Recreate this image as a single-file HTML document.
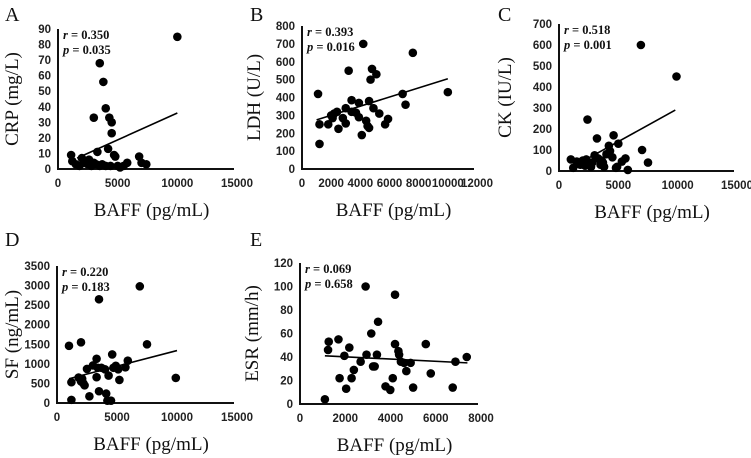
<!DOCTYPE html>
<html><head><meta charset="utf-8">
<style>
html,body{margin:0;padding:0;background:#fff;}
svg{display:block;}
.tk{font-family:"Liberation Sans",Arial,sans-serif;font-weight:bold;font-size:11.5px;fill:#222;}
.tt{font-family:"Liberation Serif","Times New Roman",serif;font-size:19px;fill:#111;}
.lt{font-family:"Liberation Serif","Times New Roman",serif;font-size:20px;fill:#111;}
.an{font-family:"Liberation Serif","Times New Roman",serif;font-weight:bold;font-size:12.5px;fill:#111;}
</style></head>
<body>
<svg id="fig" width="751" height="458" viewBox="0 0 751 458" xmlns="http://www.w3.org/2000/svg"></svg>
<script>
// Panel A: CRP
const aX=[10000,3500,3800,4000,4300,4500,3000,4500,3300,4200,4700,4800,6800,7000,7400,1100,1200,2000,2200,2500,2800,3000,3500,4000,5000,5500,5800,1800,2600,1500,3700,4400,5200,2300,3200];
const aY=[85,68,56,39,33,30,33,23,11,13,9,8,8,4,3,9,5,7,4,3,2,4,2,2,2,2,4,2,6,3,3,2,1,5,3];
const aLine=[[1600,7],[10000,36]];
const aXTicks=[0,5000,10000,15000];
const aYTicks=[0,10,20,30,40,50,60,70,80,90];
// Panel B: LDH
const bX=[1100,1200,1200,1800,2000,2100,2200,2400,2500,2800,3000,3000,3200,3400,3400,3700,3900,3900,4100,4200,4400,4500,4600,4600,4700,4800,4900,5100,5300,5700,5900,6900,7100,7600,10000];
const bY=[420,250,140,250,300,285,310,320,225,285,340,255,550,385,320,315,290,370,190,700,270,240,230,380,500,560,340,530,310,250,280,420,360,650,430];
const bLine=[[1000,275],[10000,505]];
const bXTicks=[0,2000,4000,6000,8000,10000,12000];
const bYTicks=[0,100,200,300,400,500,600,700,800];
// Panel C: CK
const cX=[1000,1200,1500,1800,2000,2200,2300,2400,2600,2800,3000,3200,3300,3500,3700,3800,4000,4200,4300,4500,4600,4800,4900,5000,5300,5600,5800,6900,7000,7500,9900,3600,2700];
const cY=[55,15,45,30,50,25,55,245,30,40,75,155,60,30,40,20,80,120,95,65,170,15,20,130,45,60,5,600,100,40,450,50,20];
const cLine=[[1000,15],[9800,290]];
const cXTicks=[0,5000,10000,15000];
const cYTicks=[0,100,200,300,400,500,600,700];
// Panel D: SF
const dX=[1000,1200,1200,1800,2000,2000,2200,2300,2500,2700,3000,3300,3300,3400,3500,3500,3700,4000,4100,4200,4300,4500,4600,4700,4900,5100,5200,5700,5900,6900,7500,9900,2100];
const dY=[1460,530,80,650,1550,550,500,450,870,170,960,1130,660,900,2650,300,900,860,240,60,700,60,1240,900,950,860,590,910,1080,2980,1500,640,620];
const dLine=[[1000,620],[10000,1340]];
const dXTicks=[0,5000,10000,15000];
const dYTicks=[0,500,1000,1500,2000,2500,3000,3500];
// Panel E: ESR
const eX=[1100,1270,1240,1700,1960,1750,2040,2180,2280,2380,2680,2900,2940,3150,3230,3300,3400,3450,3780,3990,4100,4200,4200,4350,4380,4460,4600,4700,4890,5000,5560,5780,6750,6870,7370];
const eY=[4,53,46,55,41,22,13,48,22,29,36,100,42,60,32,32,42,70,15,12,22,93,51,45,42,36,35,28,35,14,51,26,14,36,40];
const eLine=[[1100,41],[7400,35]];
const eXTicks=[0,2000,4000,6000,8000];
const eYTicks=[0,20,40,60,80,100,120];

const NS="http://www.w3.org/2000/svg";
const svg=document.getElementById('fig');
function mk(tag,attrs,parent){const e=document.createElementNS(NS,tag);for(const k in attrs)e.setAttribute(k,attrs[k]);(parent||svg).appendChild(e);return e;}

function panel(key,letter,lx,ly,xs,ys,lineArr,xt,yt,g,ytitle,r,p){
  const G=mk('g',{});
  
  
  const xMax=xt[xt.length-1], yMax=yt[yt.length-1];
  const sx=v=>g.x0+(v/xMax)*(g.x1-g.x0);
  const sy=v=>g.y0-(v/yMax)*(g.y0-g.yT);
  const L=mk('text',{x:lx,y:ly,class:'lt'},G);L.textContent=letter;
  
  
  const ax=mk('path',{d:`M${g.x0},${g.yT} L${g.x0},${g.y0} L${g.x1-3},${g.y0}`,fill:'none',stroke:'#111','stroke-width':2},G);
  
  
  yt.forEach(v=>{const t=mk('text',{x:g.x0-7,y:sy(v)+4,'text-anchor':'end',class:'tk'},G);t.textContent=v;
    
    });
  xt.forEach(v=>{const t=mk('text',{x:sx(v),y:g.y0+18,'text-anchor':'middle',class:'tk'},G);t.textContent=v;
    
    });
  const xtT=mk('text',{x:(g.x0+g.x1)/2+4,y:g.y0+47,'text-anchor':'middle',class:'tt'},G);xtT.textContent='BAFF (pg/mL)';
  
  
  const cy=(g.y0+g.yT)/2, cx=g.ytx;
  const ytT=mk('text',{x:cx,y:cy,'text-anchor':'middle',class:'tt',transform:`rotate(-90 ${cx} ${cy})`},G);ytT.textContent=ytitle;
  
  
  const a1=mk('text',{x:g.x0+5,y:g.yT+10,class:'an'},G);a1.innerHTML='<tspan font-style="italic">r</tspan> = '+r;
  
  
  const a2=mk('text',{x:g.x0+5,y:g.yT+25,class:'an'},G);a2.innerHTML='<tspan font-style="italic">p</tspan> = '+p;
  
  
  xs.forEach((v,i)=>{const c=mk('circle',{cx:sx(v),cy:sy(ys[i]),r:4.3,fill:'#000'},G);
    
    });
  const ln=mk('line',{x1:sx(lineArr[0][0]),y1:sy(lineArr[0][1]),x2:sx(lineArr[1][0]),y2:sy(lineArr[1][1]),stroke:'#000','stroke-width':1.6},G);
  
  
}
panel('a','A',5,21,aX,aY,aLine,aXTicks,aYTicks,{x0:58,x1:237,y0:169,yT:29,ytx:18},'CRP (mg/L)','0.350','0.035');
panel('b','B',250,21,bX,bY,bLine,bXTicks,bYTicks,{x0:302,x1:477,y0:169,yT:26,ytx:260},'LDH (U/L)','0.393','0.016');
panel('c','C',498,21,cX,cY,cLine,cXTicks,cYTicks,{x0:559,x1:737,y0:171,yT:24,ytx:511},'CK (IU/L)','0.518','0.001');
panel('d','D',5,246,dX,dY,dLine,dXTicks,dYTicks,{x0:57,x1:237,y0:403,yT:266,ytx:18},'SF (ng/mL)','0.220','0.183');
panel('e','E',250,246,eX,eY,eLine,eXTicks,eYTicks,{x0:300,x1:481,y0:404,yT:263,ytx:258},'ESR (mm/h)','0.069','0.658');
</script>
</body></html>
